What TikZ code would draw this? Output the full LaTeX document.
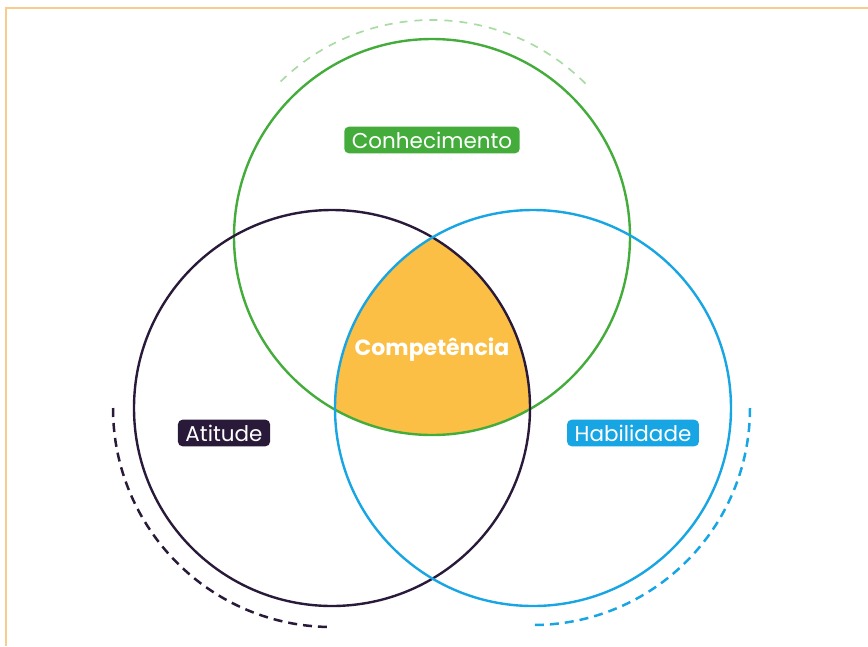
\documentclass[tikz,border=0pt]{standalone}
\usepackage{fontspec}
\setmainfont{Poppins}
\definecolor{cgreen}{HTML}{43AC3B}
\definecolor{cgreenl}{HTML}{A8DCA3}
\definecolor{cdark}{HTML}{2A1A3A}
\definecolor{cblue}{HTML}{17A5E3}
\definecolor{corange}{HTML}{FBBF45}
\definecolor{cframe}{HTML}{F8CC8C}
\tikzset{
  ring/.style={draw=#1, line width=2.4pt, circle, minimum size=396pt, inner sep=0pt},
  tag/.style={fill=#1, text=white, rounded corners=4.5pt, inner xsep=7.5pt, inner ysep=5pt, font=\fontsize{21.5}{24}\selectfont},
  arcdash/.style={draw=#1, line width=2.5pt, dash pattern=on 9pt off 6pt}
}
\begin{document}
\begin{tikzpicture}[x=1pt,y=-1pt]
\useasboundingbox (0,0) rectangle (868,646);
% frame
\draw[cframe, line width=2.5pt] (6,646) -- (6,8) -- (868,8);
% centres
\coordinate (cg) at (432,237);
\coordinate (cd) at (332,408);
\coordinate (cb) at (533,408);
% orange intersection
\begin{scope}
  \clip (cg) circle (198pt);
  \clip (cd) circle (198pt);
  \fill[corange] (cb) circle (198pt);
\end{scope}
% circles
\node[ring=cgreen] (green) at (cg) {};
\node[ring=cdark] (dark) at (cd) {};
\node[ring=cblue] (blue) at (cb) {};
% dashed arcs
\draw[draw=cgreenl, line width=1.7pt, dash pattern=on 8pt off 7pt] ([shift={(45:217pt)}]cg) arc[start angle=45, end angle=135, radius=217pt];
\draw[arcdash=cdark] ([shift={(180:219pt)}]cd) arc[start angle=180, end angle=270, radius=219pt];
\draw[arcdash=cblue] ([shift={(0:217pt)}]cb) arc[start angle=0, end angle=-90, radius=217pt];
% labels
\node[tag=cgreen] (kn) at (432,140) {Conhecimento};
\node[tag=cdark] (at) at (224,433) {Atitude};
\node[tag=cblue] (hb) at (633,433) {Habilidade};
\node[text=white, font=\fontsize{22}{26}\selectfont\bfseries] (cp) at (432,350) {Competência};
\end{tikzpicture}
\end{document}
